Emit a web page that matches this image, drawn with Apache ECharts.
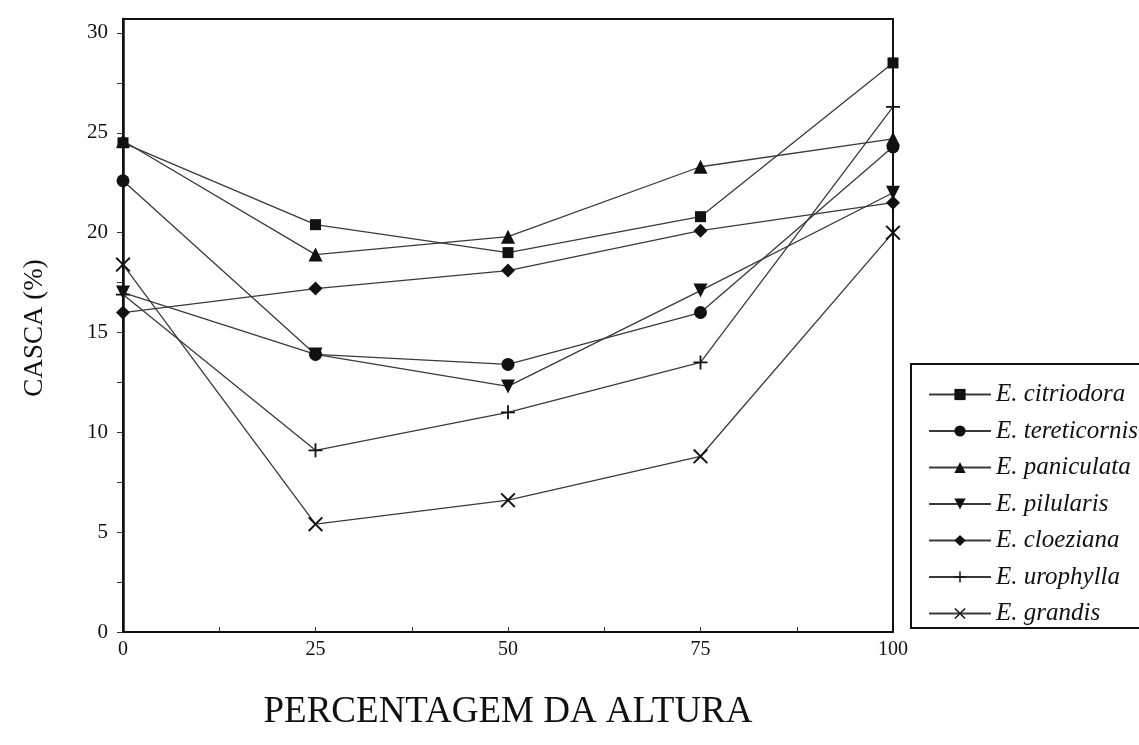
<!DOCTYPE html>
<html>
<head>
<meta charset="utf-8">
<script src="https://cdn.jsdelivr.net/npm/echarts@6/dist/echarts.min.js"></script>
<style>
  html, body { margin: 0; padding: 0; background: #fff; }
  #chart { width: 1139px; height: 745px; }
</style>
</head>
<body>
<div id="chart"></div>
<script>
// Heights along the stem (% of total height)
const heights = [0, 25, 50, 75, 100];

// Bark content (%) per species
const citriodora   = [24.5, 20.4, 19.0, 20.8, 28.5];
const tereticornis = [22.6, 13.9, 13.4, 16.0, 24.3];
const paniculata   = [24.6, 18.9, 19.8, 23.3, 24.7];
const pilularis    = [17.0, 13.9, 12.3, 17.1, 22.0];
const cloeziana    = [16.0, 17.2, 18.1, 20.1, 21.5];
const urophylla    = [16.9, 9.1, 11.0, 13.5, 26.3];
const grandis      = [18.4, 5.4, 6.6, 8.8, 20.0];

const speciesNames = ['E. citriodora', 'E. tereticornis', 'E. paniculata', 'E. pilularis',
                      'E. cloeziana', 'E. urophylla', 'E. grandis'];
const speciesValues = [citriodora, tereticornis, paniculata, pilularis, cloeziana, urophylla, grandis];

const yLabelValues = [0, 5, 10, 15, 20, 25, 30];
const yTickValues = [0, 2.5, 5, 7.5, 10, 12.5, 15, 17.5, 20, 22.5, 25, 27.5, 30];
const xLabelValues = [0, 25, 50, 75, 100];
const xTickValues = [12.5, 25, 37.5, 50, 62.5, 75, 87.5];

// Marker shapes
const PLUS = 'path://M4.35,0H5.65V4.35H10V5.65H5.65V10H4.35V5.65H0V4.35H4.35Z';
const CROSS = 'path://M0.9,0L5,4.1L9.1,0L10,0.9L5.9,5L10,9.1L9.1,10L5,5.9L0.9,10L0,9.1L4.1,5L0,0.9Z';
const DOWN_TRI = 'path://M0,0L10,0L5,9Z';
const markers = [
  { symbol: 'rect', size: 11 },
  { symbol: 'circle', size: 13 },
  { symbol: 'triangle', size: 14 },
  { symbol: DOWN_TRI, size: 14 },
  { symbol: 'diamond', size: 14 },
  { symbol: PLUS, size: 14 },
  { symbol: CROSS, size: 15 }
];

const serif = '"Liberation Serif", "Times New Roman", serif';

const series = speciesNames.map((name, i) => ({
  name: name,
  type: 'line',
  data: heights.map((h, j) => [h, speciesValues[i][j]]),
  symbol: markers[i].symbol,
  symbolSize: markers[i].size,
  showAllSymbol: true,
  lineStyle: { color: '#3a3a3a', width: 1.3 },
  itemStyle: { color: '#111', borderWidth: 0 },
  emphasis: { disabled: true },
  z: 3
}));

const chart = echarts.init(document.getElementById('chart'), null, { renderer: 'canvas' });
chart.setOption({
  animation: false,
  backgroundColor: '#fff',
  grid: {
    left: 123, top: 19, width: 770, height: 613,
    show: true, borderColor: '#111', borderWidth: 2, backgroundColor: 'transparent'
  },
  xAxis: {
    type: 'value', min: 0, max: 100, interval: 25,
    axisLine: { show: true, onZero: false, lineStyle: { color: '#111', width: 2 } },
    axisTick: { show: true, inside: true, length: 5, customValues: xTickValues,
                lineStyle: { color: '#333', width: 1 } },
    axisLabel: { customValues: xLabelValues, margin: 8, color: '#111',
                 fontFamily: serif, fontSize: 20 },
    splitLine: { show: false }
  },
  yAxis: {
    type: 'value', min: 0, max: 30.7,
    axisLine: { show: true, lineStyle: { color: '#111', width: 2.5 } },
    axisTick: { show: true, inside: false, length: 6, customValues: yTickValues,
                lineStyle: { color: '#333', width: 1 } },
    axisLabel: { customValues: yLabelValues, margin: 15, color: '#111',
                 fontFamily: serif, fontSize: 21 },
    splitLine: { show: false }
  },
  legend: {
    orient: 'vertical',
    left: 911, top: 364,
    padding: [18, 10, 2, 17],
    itemWidth: 62, itemHeight: 14, itemGap: 11.5,
    borderWidth: 0,
    selectedMode: false,
    textStyle: { fontFamily: serif, fontStyle: 'italic', fontSize: 25, color: '#111' },
    data: speciesNames
  },
  graphic: [
    {
      // legend frame, running past the right edge of the canvas
      type: 'rect',
      shape: { x: 911, y: 364, width: 320, height: 264 },
      style: { fill: 'none', stroke: '#111', lineWidth: 2 },
      z: 10
    },
    {
      type: 'text',
      x: 35, y: 328,
      rotation: Math.PI / 2,
      style: { text: 'CASCA (%)', fontFamily: serif, fontSize: 27, fill: '#111',
               align: 'center', verticalAlign: 'middle' }
    },
    {
      type: 'text',
      x: 508, y: 712,
      style: { text: 'PERCENTAGEM DA ALTURA', fontFamily: serif, fontSize: 37, fill: '#111',
               align: 'center', verticalAlign: 'middle' }
    }
  ],
  series: series
});
</script>
</body>
</html>
